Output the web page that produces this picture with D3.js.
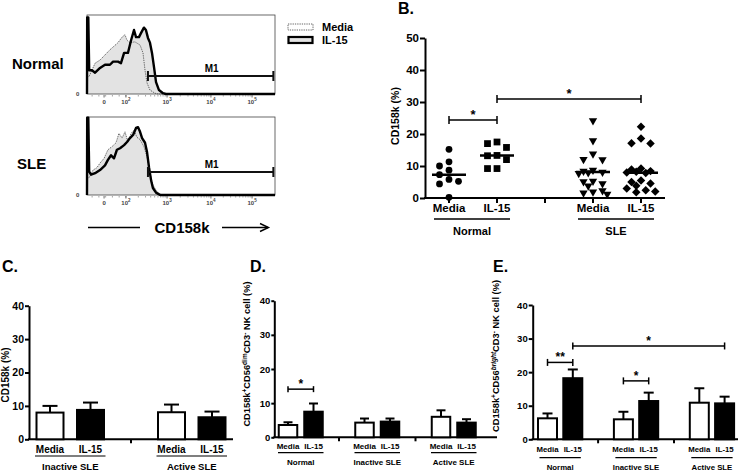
<!DOCTYPE html>
<html><head><meta charset="utf-8">
<script src="https://cdn.jsdelivr.net/npm/d3@7"></script>
<style>
body{margin:0;background:#fff}
svg{display:block}
text{font-family:"Liberation Sans",Arial,sans-serif;font-weight:bold;fill:#000}
</style>
</head><body>
<svg id="c" width="740" height="470"></svg>
<script>
// ================= DATA =================
// Panel A – flow cytometry histograms: [channel, relative count]
const histChannelRange = [0, 1024];
const histTickChannels = [93, 212, 436, 675, 899];
const histTickBase = ["0", "10", "10", "10", "10"];
const histTickExp = ["", "2", "3", "4", "5"];
const histRows = ["Normal", "SLE"];
const histLegend = ["Media", "IL-15"];
const gateLabel = "M1";
const gateChannels = [332, 1015];
const gateHeights = [22.8, 29.5];
const normalMediaHist = [[0,22],[11,22],[44,39],[71,43],[125,56],[169,65],[191,72],[207,75],[218,68],[234,65],[261,66],[289,62],[305,52],[316,30],[327,14],[343,5],[370,1],[387,0],[1024,0]];
const normalIL15Hist = [[0,0],[1,97],[7,97],[12,30],[27,30],[44,27],[71,33],[98,37],[125,37],[142,41],[169,41],[185,39],[202,52],[223,52],[240,68],[256,81],[267,72],[283,72],[294,77],[310,84],[321,81],[332,71],[343,65],[354,52],[365,34],[376,15],[392,5],[414,1],[430,0],[1024,0]];
const sleMediaHist = [[0,22],[11,22],[33,32],[54,35],[71,41],[93,47],[114,58],[136,62],[158,67],[174,79],[191,73],[207,81],[223,68],[240,79],[256,83],[272,74],[289,71],[310,62],[327,49],[343,28],[359,13],[381,4],[409,0],[1024,0]];
const sleIL15Hist = [[0,0],[1,99],[7,99],[12,30],[22,26],[44,28],[71,32],[98,38],[114,45],[131,51],[147,47],[163,58],[180,60],[202,64],[218,68],[234,73],[251,77],[267,86],[278,87],[289,81],[300,73],[316,67],[327,55],[338,35],[349,19],[359,9],[376,3],[398,0],[1024,0]];
const histAxisTitle = "CD158k";

// Panel B – individual CD158k (%) values
const bGroups = ["Normal", "SLE"];
const bConditions = ["Media", "IL-15"];
const bNormalMedia = [15.2, 11.3, 10.0, 8.7, 7.3, 5.8, 5.2, 4.4, 0.2];
const bNormalIL15 = [17.5, 17.0, 15.8, 13.3, 13.2, 12.0, 9.2, 9.2];
const bSLEMedia = [24.5, 18.2, 14.1, 12.4, 12.3, 9.0, 8.7, 8.4, 8.2, 8.0, 5.6, 5.4, 4.8, 4.1, 2.6, 2.2, 1.9, 1.5];
const bSLEIL15 = [22.3, 18.6, 17.1, 17.0, 9.2, 8.9, 8.4, 8.2, 8.0, 7.8, 5.5, 5.0, 4.5, 3.8, 3.0, 2.4, 2.0, 1.8];
const bTicks = [0, 10, 20, 30, 40, 50];
const bSig = [{a:0, b:1, v:24.4, label:"*"}, {a:1, b:4, v:30.9, label:"*"}];

// Panel C – mean ± SEM
const cGroups = ["Inactive SLE", "Active SLE"];
const cMedia = [8.0, 8.1];
const cMediaSem = [2.0, 2.3];
const cIL15 = [8.8, 6.6];
const cIL15Sem = [2.2, 1.7];

// Panel D – CD158k+CD56dimCD3- NK cells
const dGroups = ["Normal", "Inactive SLE", "Active SLE"];
const dMedia = [3.6, 4.3, 6.0];
const dMediaSem = [0.8, 1.2, 1.9];
const dIL15 = [7.5, 4.6, 4.3];
const dIL15Sem = [2.4, 0.9, 1.0];
const dSig = [{a:0, b:1, v:14.1, label:"*"}];

// Panel E – CD158k+CD56brightCD3- NK cells
const eGroups = ["Normal", "Inactive SLE", "Active SLE"];
const eMedia = [6.25, 5.95, 10.9];
const eMediaSem = [1.45, 2.25, 4.3];
const eIL15 = [18.2, 11.4, 10.7];
const eIL15Sem = [2.6, 2.5, 2.0];
const eSig = [{a:0, b:1, v:22.9, label:"**"}, {a:3, b:4, v:17.4, label:"*"}, {a:1, b:7, v:27.8, label:"*"}];

const barTicks = [0, 10, 20, 30, 40];

// ================= DRAWING =================
const svg = d3.select("#c");

// ---------- Panel A ----------
const hx = d3.scaleLinear().domain(histChannelRange).range([87, 275]);
const boxes = [
  {top: 15, base: 94, media: normalMediaHist, il15: normalIL15Hist, lx: 12, ly: 69},
  {top: 117, base: 195, media: sleMediaHist, il15: sleIL15Hist, lx: 17, ly: 169}
];
boxes.forEach((b, bi) => {
  const g = svg.append("g");
  const hy = d3.scaleLinear().domain([0, 100]).range([b.base, b.top]);
  const area = d3.area().x(d => hx(d[0])).y0(b.base).y1(d => hy(d[1]));
  const line = d3.line().x(d => hx(d[0])).y(d => hy(d[1]));
  g.append("path").attr("d", area(b.media)).attr("fill", "#e3e3e3");
  g.append("path").attr("d", area(b.il15)).attr("fill", "#e3e3e3");
  g.append("rect").attr("x", hx(0)).attr("y", b.top).attr("width", hx(1024) - hx(0)).attr("height", b.base - b.top)
    .attr("fill", "none").attr("stroke", "#444").attr("stroke-width", 0.8);
  g.append("path").attr("d", line(b.media)).attr("fill", "none").attr("stroke", "#555")
    .attr("stroke-width", 0.9).attr("stroke-dasharray", "1.3,1");
  g.append("path").attr("d", line(b.il15)).attr("fill", "none").attr("stroke", "#000")
    .attr("stroke-width", 2.4).attr("stroke-linejoin", "round");
  const gy = hy(gateHeights[bi]);
  g.append("line").attr("x1", hx(gateChannels[0])).attr("x2", hx(gateChannels[1])).attr("y1", gy).attr("y2", gy)
    .attr("stroke", "#111").attr("stroke-width", 2);
  gateChannels.forEach(c => g.append("line").attr("x1", hx(c)).attr("x2", hx(c)).attr("y1", gy - 5).attr("y2", gy + 5)
    .attr("stroke", "#111").attr("stroke-width", 2));
  g.append("text").attr("x", (hx(gateChannels[0]) + hx(gateChannels[1])) / 2 + 1).attr("y", gy - 4)
    .attr("text-anchor", "middle").attr("font-size", 10).text(gateLabel);
  const minor = [];
  for (let i = 1; i < histTickChannels.length - 1; i++) {
    const c0 = histTickChannels[i], c1 = histTickChannels[i + 1];
    for (let k = 2; k < 10; k++) minor.push(c0 + (c1 - c0) * Math.log10(k));
  }
  const lin = d3.range(6).map(i => histTickChannels[0] * 0.3 + i * (histTickChannels[1] - histTickChannels[0] * 0.3) / 5);
  minor.concat(lin).forEach(c => g.append("line").attr("x1", hx(c)).attr("x2", hx(c)).attr("y1", b.base + 1).attr("y2", b.base + 2.5)
    .attr("stroke", "#666").attr("stroke-width", 0.6));
  histTickChannels.forEach((c, i) => {
    g.append("line").attr("x1", hx(c)).attr("x2", hx(c)).attr("y1", b.base + 1).attr("y2", b.base + 3.5)
      .attr("stroke", "#444").attr("stroke-width", 0.8);
    const t = g.append("text").attr("x", hx(c)).attr("y", b.base + 10).attr("text-anchor", "middle")
      .attr("font-size", 6).attr("font-weight", "normal").style("fill", "#444");
    t.append("tspan").text(histTickBase[i]);
    if (histTickExp[i]) t.append("tspan").attr("dy", -3).attr("font-size", 4.5).text(histTickExp[i]);
  });
  g.append("text").attr("x", 76).attr("y", b.base + 1.5).attr("font-size", 6).attr("font-weight", "normal")
    .style("fill", "#444").text("0");
  g.append("text").attr("x", b.lx).attr("y", b.ly).attr("font-size", 15).text(histRows[bi]);
});
svg.append("rect").attr("x", 288).attr("y", 24).attr("width", 25).attr("height", 6).attr("fill", "#fff")
  .attr("stroke", "#555").attr("stroke-width", 0.9).attr("stroke-dasharray", "1.3,1");
svg.append("rect").attr("x", 288.5).attr("y", 37).attr("width", 24).attr("height", 6).attr("fill", "#e3e3e3")
  .attr("stroke", "#000").attr("stroke-width", 2.2);
histLegend.forEach((t, i) => svg.append("text").attr("x", 322).attr("y", 31 + i * 13).attr("font-size", 11).text(t));
svg.append("text").attr("x", 182).attr("y", 233).attr("text-anchor", "middle").attr("font-size", 15).text(histAxisTitle);
svg.append("line").attr("x1", 88).attr("x2", 140).attr("y1", 227.5).attr("y2", 227.5).attr("stroke", "#000").attr("stroke-width", 1.4);
svg.append("line").attr("x1", 222).attr("x2", 268).attr("y1", 227.5).attr("y2", 227.5).attr("stroke", "#000").attr("stroke-width", 1.4);
svg.append("path").attr("d", "M260,223.5 L268.5,227.5 L260,231.5").attr("fill", "none").attr("stroke", "#000").attr("stroke-width", 1.4);

// ---------- helpers ----------
function yAxis(g, y, x, ticks, size, font, pad) {
  const ax = g.append("g").attr("transform", `translate(${x},0)`)
    .call(d3.axisLeft(y).tickValues(ticks).tickSize(size).tickSizeOuter(0).tickPadding(pad));
  ax.select(".domain").attr("stroke-width", 2);
  ax.selectAll(".tick line").attr("stroke-width", 2);
  ax.selectAll(".tick text").attr("font-size", font).attr("font-family", "Liberation Sans, Arial, sans-serif")
    .attr("font-weight", "bold").attr("fill", "#000");
}
function bracket(g, x1, x2, yy, cap, label, font) {
  g.append("line").attr("x1", x1).attr("x2", x2).attr("y1", yy).attr("y2", yy).attr("stroke", "#000").attr("stroke-width", 1.5);
  [x1, x2].forEach(x => g.append("line").attr("x1", x).attr("x2", x).attr("y1", yy - cap).attr("y2", yy + cap)
    .attr("stroke", "#000").attr("stroke-width", 1.5));
  g.append("text").attr("x", (x1 + x2) / 2).attr("y", yy - 1).attr("text-anchor", "middle").attr("font-size", font).text(label);
}

// ---------- Panel B ----------
{
  const g = svg.append("g");
  const y = d3.scaleLinear().domain([0, 50]).range([198, 38]);
  const x = d3.scaleLinear().domain([0, 4]).range([449, 641]);
  const axisX = 425, axisEnd = 665;
  g.append("text").attr("x", 398).attr("y", 14).attr("font-size", 16).text("B.");
  yAxis(g, y, axisX, bTicks, 5, 11.5, 1);
  g.append("line").attr("x1", axisX - 1).attr("x2", axisEnd).attr("y1", y(0)).attr("y2", y(0)).attr("stroke", "#000").attr("stroke-width", 2);
  d3.range(5).forEach(i => g.append("line").attr("x1", x(i)).attr("x2", x(i)).attr("y1", y(0)).attr("y2", y(0) + 5)
    .attr("stroke", "#000").attr("stroke-width", 2));
  g.append("text").attr("transform", "translate(399,116) rotate(-90)").attr("text-anchor", "middle").attr("font-size", 10.5).text("CD158k (%)");
  const series = [bNormalMedia, bNormalIL15, bSLEMedia, bSLEIL15];
  const cols = [0, 1, 3, 4];
  const shapes = [
    d3.symbol(d3.symbolCircle, 36),
    d3.symbol(d3.symbolSquare, 46),
    d3.symbol(d3.symbolTriangle, 30),
    d3.symbol(d3.symbolSquare, 36)
  ];
  const rot = [0, 0, 180, 45];
  function swarm(values, cx) {
    const placed = [];
    const cands = [0, -1, 1, -0.5, 0.5, -1.5, 1.5];
    values.slice().sort((a, b) => b - a).forEach(v => {
      const py = y(v);
      let best = null, bestD = -1;
      for (const k of cands) {
        const px = cx + k * 9.5;
        const dmin = placed.length ? d3.min(placed, q => Math.hypot(q.x - px, q.y - py)) : Infinity;
        if (dmin >= 7) { best = px; break; }
        if (dmin > bestD) { bestD = dmin; best = px; }
      }
      placed.push({x: best, y: py});
    });
    return placed;
  }
  series.forEach((vals, si) => {
    const cx = x(cols[si]);
    swarm(vals, cx).forEach(p => g.append("path").attr("d", shapes[si]())
      .attr("transform", `translate(${p.x},${p.y + (si === 2 ? 1 : 0)}) rotate(${rot[si]})`).attr("fill", "#000"));
    const m = d3.median(vals);
    g.append("line").attr("x1", cx - 17).attr("x2", cx + 17).attr("y1", y(m)).attr("y2", y(m)).attr("stroke", "#000").attr("stroke-width", 2.5);
    g.append("text").attr("x", cx).attr("y", 212).attr("text-anchor", "middle").attr("font-size", 11.5).text(bConditions[si % 2]);
  });
  bGroups.forEach((gr, gi) => {
    const x1 = x(gi * 3) - 15, x2 = x(gi * 3 + 1) + 13;
    g.append("line").attr("x1", x1).attr("x2", x2).attr("y1", 219).attr("y2", 219).attr("stroke", "#000").attr("stroke-width", 1.3);
    g.append("text").attr("x", (x1 + x2) / 2).attr("y", 235).attr("text-anchor", "middle").attr("font-size", 11).text(gr);
  });
  bSig.forEach(s => bracket(g, x(s.a), x(s.b), y(s.v), 4, s.label, 13));
}

// ---------- Bar panels ----------
function barPanel(cfg) {
  const g = svg.append("g");
  const n = cfg.groups.length;
  const N = 3 * n - 1;
  const x = d3.scaleLinear().domain([0, N - 1]).range([cfg.firstCol, cfg.lastCol]);
  const y = d3.scaleLinear().domain([0, 40]).range([cfg.yBottom, cfg.yTop]);
  g.append("text").attr("x", cfg.letterX).attr("y", 272).attr("font-size", 16).text(cfg.letter);
  yAxis(g, y, cfg.axisX, barTicks, cfg.tickSize, cfg.tickFont, cfg.tickPad);
  g.append("line").attr("x1", cfg.axisX - 1).attr("x2", cfg.axisEnd).attr("y1", y(0)).attr("y2", y(0)).attr("stroke", "#000").attr("stroke-width", 2);
  for (let gi = 0; gi < n - 1; gi++) {
    const gx = x(gi * 3 + 2);
    g.append("line").attr("x1", gx).attr("x2", gx).attr("y1", y(0)).attr("y2", y(0) + 4).attr("stroke", "#000").attr("stroke-width", 2);
  }
  cfg.groups.forEach((gr, gi) => {
    [[cfg.media, cfg.mediaSem, "#fff", "Media"], [cfg.il15, cfg.il15Sem, "#000", "IL-15"]].forEach((s, k) => {
      const cx = x(gi * 3 + k), v = s[0][gi], e = s[1][gi];
      g.append("line").attr("x1", cx).attr("x2", cx).attr("y1", y(v)).attr("y2", y(v + e)).attr("stroke", "#000").attr("stroke-width", 2);
      g.append("line").attr("x1", cx - cfg.capW / 2).attr("x2", cx + cfg.capW / 2).attr("y1", y(v + e)).attr("y2", y(v + e))
        .attr("stroke", "#000").attr("stroke-width", 2);
      g.append("rect").attr("x", cx - cfg.barW / 2).attr("y", y(v)).attr("width", cfg.barW).attr("height", y(0) - y(v))
        .attr("fill", s[2]).attr("stroke", "#000").attr("stroke-width", 2);
      g.append("text").attr("x", cx).attr("y", cfg.catY).attr("text-anchor", "middle").attr("font-size", cfg.catFont).text(s[3]);
    });
    const x1 = x(gi * 3) - cfg.linePad, x2 = x(gi * 3 + 1) + cfg.linePad;
    g.append("line").attr("x1", x1).attr("x2", x2).attr("y1", cfg.lineY).attr("y2", cfg.lineY).attr("stroke", "#000").attr("stroke-width", 1.2);
    g.append("text").attr("x", (x1 + x2) / 2).attr("y", cfg.groupY).attr("text-anchor", "middle").attr("font-size", cfg.groupFont).text(gr);
  });
  (cfg.sig || []).forEach(s => bracket(g, x(s.a), x(s.b), y(s.v), cfg.cap, s.label, cfg.starFont));
  const yl = g.append("text").attr("transform", `translate(${cfg.ylX},${cfg.ylY}) rotate(-90)`).attr("text-anchor", "middle")
    .attr("font-size", cfg.ylFont);
  cfg.ylabel.forEach(p => {
    const t = yl.append("tspan").text(p[0]);
    if (p[1] === "sup") t.attr("font-size", cfg.ylFont * 0.7).attr("dy", -cfg.ylFont * 0.35);
    else if (p[1] === "supi") t.attr("font-size", cfg.ylFont * 0.7).attr("dy", -cfg.ylFont * 0.35).attr("font-style", "italic");
    else t.attr("dy", p[2] || 0);
  });
}

barPanel({letter: "C.", letterX: 2, groups: cGroups, media: cMedia, mediaSem: cMediaSem, il15: cIL15, il15Sem: cIL15Sem,
  axisX: 29, axisEnd: 233, yBottom: 439.3, yTop: 305.7, firstCol: 50, lastCol: 212, barW: 27, capW: 15,
  tickSize: 4, tickPad: 1, tickFont: 10.5, catFont: 10, catY: 452.5, lineY: 456, groupY: 469.5, groupFont: 9.5, linePad: 15,
  ylX: 9, ylY: 375, ylFont: 10, ylabel: [["CD158k (%)"]]});

const ylD = [["CD158k"], ["+", "sup"], ["CD56", "", 3.15], ["dim", "sup"], ["CD3", "", 3.15], ["-", "sup"], [" NK cell (%)", "", 3.15]];
barPanel({letter: "D.", letterX: 250, groups: dGroups, media: dMedia, mediaSem: dMediaSem, il15: dIL15, il15Sem: dIL15Sem, sig: dSig,
  axisX: 274.3, axisEnd: 497, yBottom: 437.3, yTop: 300.7, firstCol: 288, lastCol: 466.5, barW: 18.5, capW: 9,
  tickSize: 3, tickPad: 1, tickFont: 9.5, catFont: 8, catY: 448.5, lineY: 452.7, groupY: 465, groupFont: 8, linePad: 10,
  cap: 3, starFont: 12, ylX: 250, ylY: 354, ylFont: 9.3, ylabel: ylD});

const ylE = [["CD158k"], ["+", "sup"], ["CD56", "", 3.25], ["bright", "supi"], ["CD3", "", 3.25], ["-", "sup"], [" NK cell (%)", "", 3.25]];
barPanel({letter: "E.", letterX: 493, groups: eGroups, media: eMedia, mediaSem: eMediaSem, il15: eIL15, il15Sem: eIL15Sem, sig: eSig,
  axisX: 532.7, axisEnd: 738, yBottom: 439.3, yTop: 305, firstCol: 547.5, lastCol: 724.6, barW: 19, capW: 10,
  tickSize: 4, tickPad: 1, tickFont: 9.5, catFont: 7.8, catY: 451.5, lineY: 457.7, groupY: 469.5, groupFont: 7.8, linePad: 8,
  cap: 3.5, starFont: 12, ylX: 499, ylY: 356, ylFont: 9.3, ylabel: ylE});
</script>
</body></html>
